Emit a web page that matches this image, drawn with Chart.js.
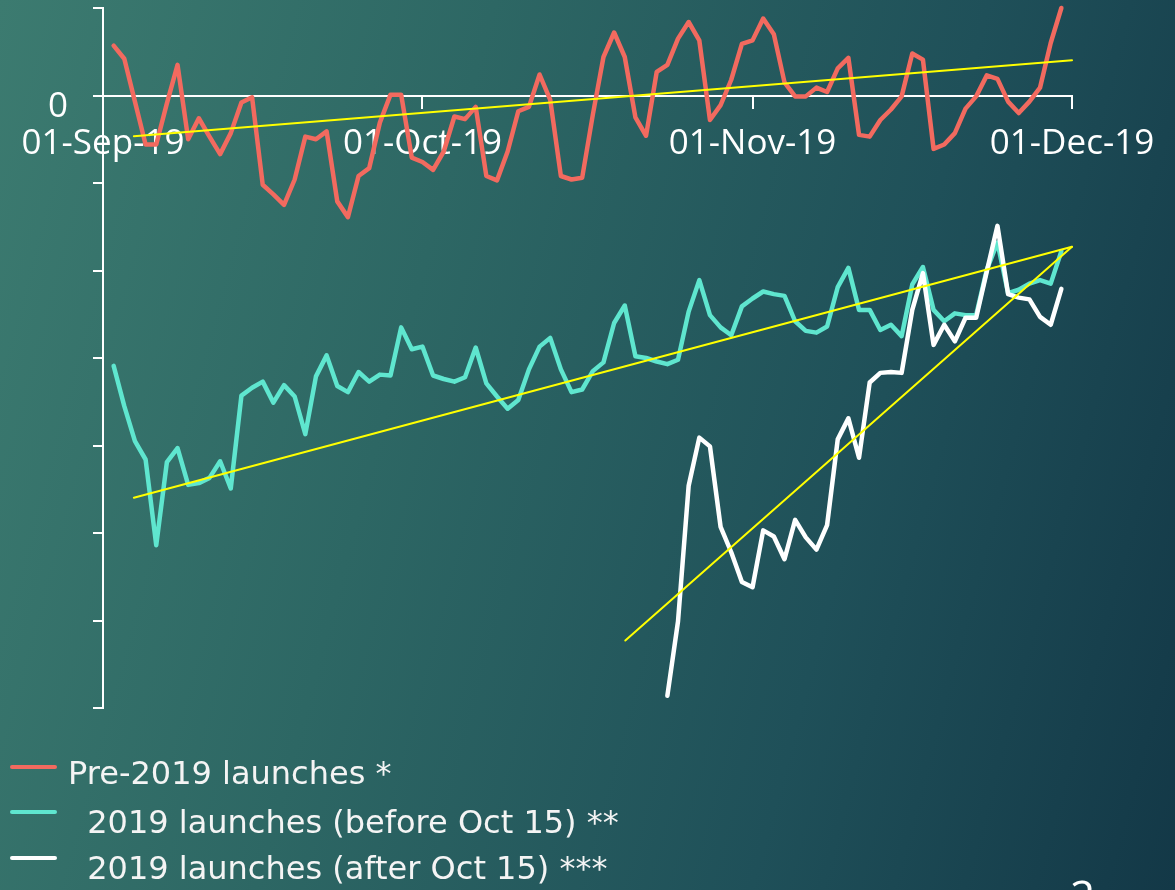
<!DOCTYPE html>
<html>
<head>
<meta charset="utf-8">
<script src="https://cdn.jsdelivr.net/npm/chart.js@4.4.1/dist/chart.umd.min.js"></script>
<style>
  html, body { margin: 0; padding: 0; }
  body { width: 1175px; height: 890px; overflow: hidden; }
  #wrap {
    position: relative; width: 1175px; height: 890px; overflow: hidden;
    background: linear-gradient(105deg, #3c7b70 0%, #2d6764 35%, #1f5059 70%, #133847 100%);
  }
  .sw { position: absolute; left: 10px; width: 47px; height: 4px; border-radius: 2px; }
  .txt { position: absolute; white-space: pre; font-family: "DejaVu Sans", sans-serif; font-size: 32px; line-height: normal; color: #f4f4f4; }
  #page { position: absolute; left: 1070px; top: 873px; font-family: "Open Sans", sans-serif; font-size: 44px; line-height: 1; color: #fff; }
</style>
</head>
<body>
<div id="wrap">
  <canvas id="LaunchChart" width="1175" height="890"></canvas>
  <div id="legend"></div>
  <div id="page">2</div>
</div>
<script>
  // x = days since 01-Sep-19
  const tickDays = [0, 30, 61, 91];
  const tickLabels = ['01-Sep-19', '01-Oct-19', '01-Nov-19', '01-Dec-19'];

  const preStart = 1;
  const preValues = [
    5.7, 4.2, -0.7, -5.6, -5.6, -0.9, 3.5, -5.0, -2.6, -4.7,
    -6.7, -4.3, -0.8, -0.2, -10.2, -11.3, -12.5, -9.6, -4.7, -5.0,
    -4.1, -12.1, -13.9, -9.2, -8.3, -3.1, 0.1, 0.1, -7.1, -7.6,
    -8.5, -6.4, -2.4, -2.7, -1.3, -9.2, -9.7, -6.4, -1.8, -1.3,
    2.4, -0.5, -9.2, -9.6, -9.4, -2.2, 4.4, 7.2, 4.4, -2.5,
    -4.6, 2.7, 3.5, 6.5, 8.4, 6.3, -2.8, -1.1, 1.8, 5.9,
    6.3, 8.8, 7.0, 1.5, -0.1, -0.1, 0.9, 0.4, 3.1, 4.3,
    -4.5, -4.7, -2.8, -1.6, -0.1, 4.8, 4.1, -6.1, -5.6, -4.3,
    -1.5, -0.1, 2.3, 1.9, -0.7, -2.0, -0.7, 0.9, 6.0, 10.0
  ];

  const beforeStart = 1;
  const beforeValues = [
    -30.9, -35.5, -39.5, -41.6, -51.4, -41.9, -40.3, -44.5, -44.3, -43.7,
    -41.8, -44.9, -34.3, -33.4, -32.7, -35.1, -33.1, -34.4, -38.7, -32.1,
    -29.7, -33.2, -33.9, -31.6, -32.7, -31.9, -32.0, -26.5, -29.0, -28.7,
    -32.0, -32.4, -32.7, -32.2, -28.8, -32.9, -34.4, -35.8, -34.8, -31.3,
    -28.7, -27.7, -31.3, -33.9, -33.6, -31.5, -30.5, -26.0, -24.0, -29.8,
    -30.0, -30.4, -30.7, -30.2, -24.7, -21.1, -25.1, -26.5, -27.4, -24.1,
    -23.2, -22.4, -22.7, -22.9, -25.8, -26.9, -27.1, -26.4, -21.9, -19.7,
    -24.5, -24.5, -26.8, -26.2, -27.5, -21.6, -19.6, -24.5, -25.8, -24.9,
    -25.1, -25.1, -19.9, -16.8, -22.6, -22.2, -21.5, -21.1, -21.5, -17.8
  ];

  const afterStart = 53;
  const afterValues = [
    -68.6, -60.1, -44.6, -39.1, -40.1, -49.3, -52.2, -55.6, -56.2, -49.7,
    -50.4, -53.0, -48.5, -50.5, -51.9, -49.1, -39.3, -36.9, -41.4, -32.8,
    -31.7, -31.6, -31.7, -24.5, -20.3, -28.5, -26.2, -28.1, -25.4, -25.4,
    -20.1, -14.9, -22.7, -23.1, -23.3, -25.3, -26.2, -22.1
  ];

  // trend lines: [day, value] end points
  const preTrend = [[2.9, -4.65], [91, 4.03]];
  const beforeTrend = [[2.9, -45.98], [91, -17.29]];
  const afterTrend = [[49.05, -62.29], [91, -17.29]];

  const legendLabels = ['Pre-2019 launches *', ' 2019 launches (before Oct 15) **', ' 2019 launches (after Oct 15) ***'];
  const colors = ['#f26a5f', '#5fe6cf', '#ffffff'];
  const trendColor = '#ffff00';

  function toPoints(start, values) {
    return values.map((v, i) => ({ x: start + i, y: v }));
  }
  function trendPoints(pairs) {
    return pairs.map(p => ({ x: p[0], y: p[1] }));
  }

  const series = [
    { label: legendLabels[0], data: toPoints(preStart, preValues), borderColor: colors[0], borderWidth: 4.5, order: 3 },
    { label: legendLabels[1], data: toPoints(beforeStart, beforeValues), borderColor: colors[1], borderWidth: 4.5, order: 2 },
    { label: legendLabels[2], data: toPoints(afterStart, afterValues), borderColor: colors[2], borderWidth: 4.5, order: 1 },
    { label: 'trend1', data: trendPoints(preTrend), borderColor: trendColor, borderWidth: 2, order: 0 },
    { label: 'trend2', data: trendPoints(beforeTrend), borderColor: trendColor, borderWidth: 2, order: 0 },
    { label: 'trend3', data: trendPoints(afterTrend), borderColor: trendColor, borderWidth: 2, order: 0 }
  ];
  series.forEach(ds => { ds.pointRadius = 0; ds.tension = 0; ds.fill = false; ds.clip = 6; ds.borderJoinStyle = 'round'; ds.borderCapStyle = 'round'; });

  const config = {
    type: 'line',
    data: { datasets: series },
    options: {
      responsive: false,
      animation: false,
      layout: { padding: { left: 0, top: 8, right: 103, bottom: 182 } },
      plugins: { legend: { display: false }, tooltip: { enabled: false } },
      scales: {
        x: {
          type: 'linear',
          min: 0,
          max: 91,
          position: { y: 0 },
          afterBuildTicks: s => { s.ticks = tickDays.map(d => ({ value: d })); },
          ticks: {
            autoSkip: false, maxRotation: 0, color: '#ffffff', padding: 16,
            font: { family: 'Open Sans', size: 35 },
            callback: v => tickLabels[tickDays.indexOf(v)]
          },
          grid: { drawOnChartArea: false, drawTicks: true, tickLength: 12, color: '#ffffff', lineWidth: 2 },
          border: { display: true, color: '#ffffff', width: 2 }
        },
        y: {
          type: 'linear',
          min: -70,
          max: 10,
          position: 'left',
          afterFit: s => { s.width = 103; s.paddingTop = 0; s.paddingBottom = 0; },
          ticks: {
            stepSize: 10, color: '#ffffff', padding: 25, labelOffset: 12,
            font: { family: 'Open Sans', size: 35 },
            callback: v => (v === 0 ? '0' : '')
          },
          grid: { drawOnChartArea: false, drawTicks: true, tickLength: 10, color: '#ffffff', lineWidth: 2 },
          border: { display: true, color: '#ffffff', width: 2 }
        }
      }
    }
  };

  const launchChart = new Chart(document.getElementById('LaunchChart'), config);

  // legend rows built from the series
  const legend = document.getElementById('legend');
  const swatchTop = [765, 810, 856];
  const textTop = [754, 803, 849];
  const textLeft = [68, 77, 77];
  series.slice(0, 3).forEach((ds, i) => {
    const sw = document.createElement('div');
    sw.className = 'sw';
    sw.style.top = swatchTop[i] + 'px';
    sw.style.background = ds.borderColor;
    const tx = document.createElement('div');
    tx.className = 'txt';
    tx.style.top = textTop[i] + 'px';
    tx.style.left = textLeft[i] + 'px';
    tx.textContent = ds.label;
    legend.appendChild(sw);
    legend.appendChild(tx);
  });
</script>
</body>
</html>
